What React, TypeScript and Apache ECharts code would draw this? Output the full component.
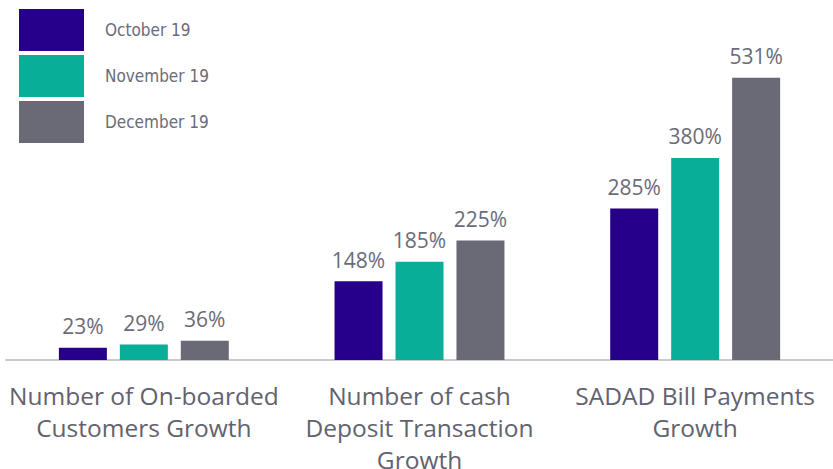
import React, { useEffect, useRef } from "react";
import * as echarts from "echarts";

const categories = [
  "Number of On-boarded\nCustomers Growth",
  "Number of cash\nDeposit Transaction\nGrowth",
  "SADAD Bill Payments\nGrowth",
];
const seriesNames = ["October 19", "November 19", "December 19"];
const october = [23, 148, 285];
const november = [29, 185, 380];
const december = [36, 225, 531];
const colors = ["#26008a", "#08ae98", "#6a6a76"];

export default function App() {
  const ref = useRef<HTMLDivElement>(null);
  useEffect(() => {
    const chart = echarts.init(ref.current!, null, { renderer: "svg" });
    const values = [october, november, december];
    chart.setOption({
      animation: false,
      legend: {
        orient: "vertical",
        left: 19,
        top: 9,
        padding: 0,
        itemWidth: 65,
        itemHeight: 42,
        itemGap: 4,
        icon: "rect",
        data: seriesNames,
        textStyle: {
          fontFamily: "'Liberation Sans Narrow', 'DejaVu Sans Condensed', 'Roboto', sans-serif",
          fontSize: 17,
          color: "#6b6b78",
          padding: [0, 0, 0, 16],
        },
      },
      grid: { left: 6, right: 0, top: 41, bottom: 109, outerBoundsMode: "none", containLabel: false },
      xAxis: {
        type: "category",
        data: categories,
        axisLine: { lineStyle: { color: "#c9c9cc", width: 2 } },
        axisTick: { show: false },
        axisLabel: {
          interval: 0,
          margin: 19,
          fontSize: 24.5,
          lineHeight: 32,
          fontFamily: "'Open Sans', Lato, sans-serif",
          color: "#62626f",
        },
      },
      yAxis: { type: "value", min: 0, max: 600, show: false, splitLine: { show: false } },
      series: seriesNames.map((name, i) => ({
        name,
        type: "bar",
        data: values[i],
        barWidth: 48,
        barGap: "27%",
        itemStyle: { color: colors[i] },
        label: {
          show: true,
          position: "top",
          distance: 11,
          formatter: "{c}%",
          fontSize: 21,
          fontFamily: "'Open Sans', Lato, sans-serif",
          color: "#6b6b78",
        },
      })),
    });
    return () => chart.dispose();
  }, []);
  return <div ref={ref} style={{ width: 833, height: 469, position: "absolute", left: 0, top: 0 }} />;
}
